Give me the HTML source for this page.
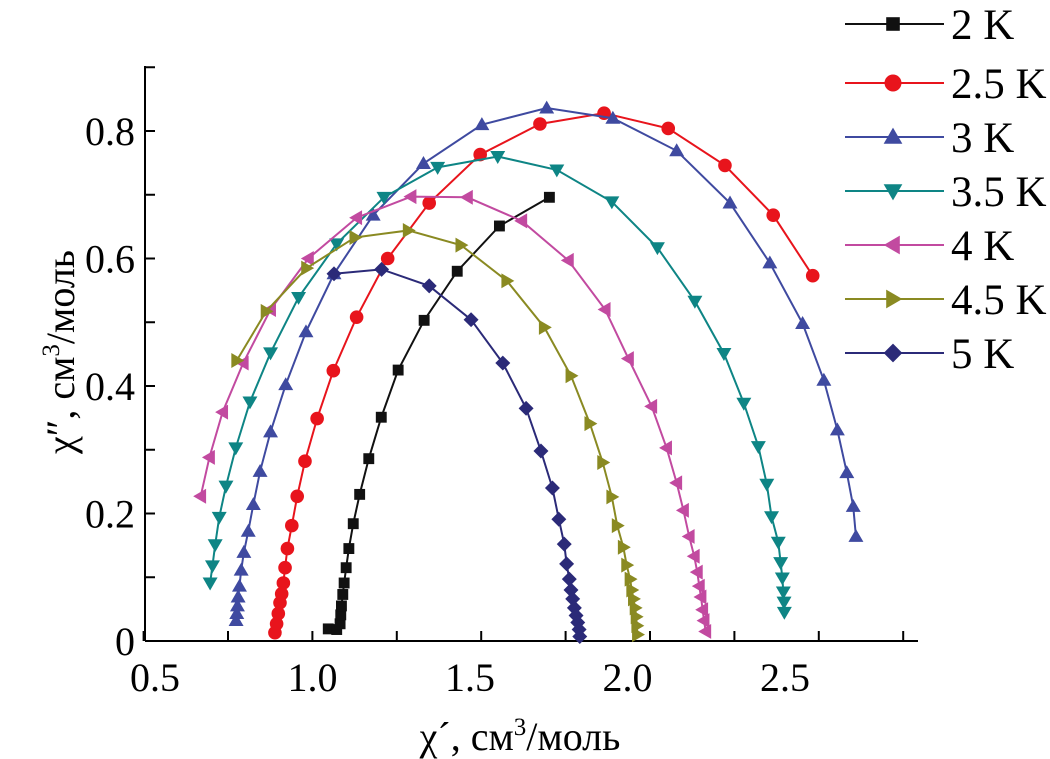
<!DOCTYPE html>
<html><head><meta charset="utf-8">
<style>
html,body{margin:0;padding:0;background:#fff;}
svg{display:block;font-family:"Liberation Serif",serif;}
</style></head>
<body>
<svg id="chart" width="1050" height="759" viewBox="0 0 1050 759" xmlns="http://www.w3.org/2000/svg">
<g id="axes"></g>
<g id="plot"></g>
<g id="legend"></g>
<text x="520" y="750" font-size="40" text-anchor="middle">χ´, см<tspan font-size="25" dy="-15">3</tspan><tspan dy="15">/моль</tspan></text>
<text transform="translate(74,352) rotate(-90)" font-size="40" text-anchor="middle">χ″, см<tspan font-size="25" dy="-15">3</tspan><tspan dy="15">/моль</tspan></text>
</svg>
<script>
const seriesNames = ["2 K","2.5 K","3 K","3.5 K","4 K","4.5 K","5 K"];
const seriesColors = ["#111111","#e8141c","#3f4aa0","#0e8585","#c24aa0","#8a8a22","#2b2a78"];
const seriesMarkers = ["square","circle","up","down","left","right","diamond"];
const x2K = [1.047,1.072,1.082,1.084,1.086,1.090,1.094,1.100,1.108,1.121,1.140,1.167,1.204,1.254,1.331,1.429,1.554,1.702];
const y2K = [0.019,0.018,0.027,0.041,0.055,0.073,0.091,0.115,0.145,0.184,0.230,0.286,0.351,0.425,0.503,0.580,0.651,0.696];
const x25K = [0.889,0.894,0.899,0.904,0.909,0.914,0.919,0.926,0.939,0.955,0.978,1.014,1.062,1.131,1.223,1.346,1.497,1.674,1.864,2.054,2.222,2.365,2.482];
const y25K = [0.013,0.027,0.043,0.060,0.074,0.091,0.115,0.145,0.181,0.227,0.282,0.349,0.424,0.508,0.600,0.687,0.763,0.811,0.828,0.804,0.746,0.668,0.573];
const x3K = [0.774,0.776,0.778,0.780,0.784,0.789,0.797,0.810,0.825,0.845,0.876,0.921,0.981,1.064,1.180,1.329,1.502,1.694,1.890,2.079,2.237,2.355,2.452,2.515,2.555,2.583,2.602,2.610];
const y3K = [0.032,0.043,0.055,0.069,0.086,0.111,0.139,0.172,0.214,0.266,0.328,0.402,0.485,0.576,0.668,0.749,0.810,0.836,0.820,0.769,0.687,0.593,0.498,0.409,0.331,0.264,0.211,0.164];
const x35K = [0.697,0.704,0.712,0.724,0.744,0.773,0.815,0.876,0.959,1.072,1.212,1.371,1.549,1.724,1.887,2.022,2.133,2.219,2.278,2.321,2.346,2.360,2.380,2.387,2.392,2.395,2.397,2.398];
const y35K = [0.091,0.118,0.151,0.194,0.243,0.303,0.375,0.452,0.539,0.623,0.696,0.743,0.760,0.739,0.689,0.617,0.533,0.451,0.373,0.305,0.246,0.195,0.155,0.123,0.099,0.077,0.061,0.045];
const x4K = [0.669,0.695,0.734,0.795,0.876,0.988,1.131,1.292,1.459,1.620,1.758,1.867,1.936,2.005,2.049,2.079,2.099,2.116,2.131,2.140,2.146,2.151,2.156,2.160,2.165];
const y4K = [0.227,0.288,0.359,0.436,0.520,0.600,0.664,0.697,0.696,0.659,0.597,0.520,0.443,0.368,0.303,0.248,0.205,0.164,0.133,0.108,0.086,0.069,0.049,0.032,0.015];
const x45K = [0.776,0.863,0.983,1.126,1.284,1.440,1.576,1.687,1.766,1.822,1.860,1.887,1.903,1.921,1.931,1.941,1.946,1.951,1.956,1.959,1.961,1.963];
const y45K = [0.440,0.517,0.585,0.633,0.644,0.621,0.565,0.492,0.416,0.341,0.280,0.226,0.181,0.147,0.119,0.097,0.080,0.066,0.052,0.038,0.024,0.010];
const x5K = [1.064,1.205,1.346,1.470,1.564,1.633,1.677,1.711,1.730,1.746,1.753,1.761,1.766,1.771,1.776,1.781,1.786,1.790,1.792];
const y5K = [0.576,0.583,0.557,0.504,0.436,0.365,0.298,0.240,0.191,0.152,0.121,0.097,0.080,0.066,0.052,0.040,0.029,0.018,0.007];
const xTickLabels = ["0.5","1.0","1.5","2.0","2.5"];
const yTickLabels = ["0","0.2","0.4","0.6","0.8"];

const allX = [x2K,x25K,x3K,x35K,x4K,x45K,x5K];
const allY = [y2K,y25K,y3K,y35K,y4K,y45K,y5K];
const NS = "http://www.w3.org/2000/svg";
const X0 = 143.6, XS = 337.6, Y0 = 641, YS = 637.5;
function sx(v){ return X0 + (v - 0.5) * XS; }
function sy(v){ return Y0 - v * YS; }
function lx(v){ return 155 + (v - 0.5) * 315; }
function mk(tag, attrs, parent){
  const e = document.createElementNS(NS, tag);
  for (const k in attrs) e.setAttribute(k, attrs[k]);
  parent.appendChild(e);
  return e;
}
const axes = document.getElementById('axes');
const plot = document.getElementById('plot');
const legend = document.getElementById('legend');

const xl = mk('line', {x1:145, y1:Y0, x2:918, y2:Y0, stroke:'#000', 'stroke-width':2}, axes);


const yl = mk('line', {x1:145, y1:Y0, x2:145, y2:66, stroke:'#000', 'stroke-width':2}, axes);



for (let i = 0; i <= 9; i++) {
  const v = 0.5 + i * 0.25;
  const px = sx(v);
  if (px > 918) break;
  const t = mk('line', {x1:px, y1:Y0, x2:px, y2:Y0-10, stroke:'#000', 'stroke-width':2}, axes);
  
  
}
xTickLabels.forEach(function(lab){
  const tx = mk('text', {x:lx(parseFloat(lab)), y:Y0 + 50, 'font-size':40, 'text-anchor':'middle'}, axes);
  tx.textContent = lab;
  
  
});
for (let i = 0; i <= 9; i++) {
  const v = i * 0.1;
  const t = mk('line', {x1:145, y1:sy(v), x2:155, y2:sy(v), stroke:'#000', 'stroke-width':2}, axes);
  
  
}
yTickLabels.forEach(function(lab){
  const tx = mk('text', {x:135, y:sy(parseFloat(lab)) + 14, 'font-size':40, 'text-anchor':'end'}, axes);
  tx.textContent = lab;
  
  
});

function marker(type, cx, cy, col, parent, r){
  let e;
  if (type === 'square') e = mk('rect', {x:cx-r*0.8, y:cy-r*0.8, width:r*1.6, height:r*1.6, fill:col}, parent);
  else if (type === 'circle') e = mk('circle', {cx:cx, cy:cy, r:r, fill:col}, parent);
  else if (type === 'up') e = mk('polygon', {points:(cx)+','+(cy-r*1.1)+' '+(cx-r*1.1)+','+(cy+r*0.8)+' '+(cx+r*1.1)+','+(cy+r*0.8), fill:col}, parent);
  else if (type === 'down') e = mk('polygon', {points:(cx)+','+(cy+r*1.1)+' '+(cx-r*1.1)+','+(cy-r*0.8)+' '+(cx+r*1.1)+','+(cy-r*0.8), fill:col}, parent);
  else if (type === 'left') e = mk('polygon', {points:(cx-r*1.1)+','+cy+' '+(cx+r*0.8)+','+(cy-r*1.1)+' '+(cx+r*0.8)+','+(cy+r*1.1), fill:col}, parent);
  else if (type === 'right') e = mk('polygon', {points:(cx+r*1.1)+','+cy+' '+(cx-r*0.8)+','+(cy-r*1.1)+' '+(cx-r*0.8)+','+(cy+r*1.1), fill:col}, parent);
  else e = mk('polygon', {points:cx+','+(cy-r*1.1)+' '+(cx+r*1.1)+','+cy+' '+cx+','+(cy+r*1.1)+' '+(cx-r*1.1)+','+cy, fill:col}, parent);
  return e;
}

allX.forEach(function(xs, si){
  const ys = allY[si];
  const col = seriesColors[si];
  const g = mk('g', {}, plot);
  
  
  const pts = xs.map(function(v, i){ return sx(v) + ',' + sy(ys[i]); }).join(' ');
  const pl = mk('polyline', {points:pts, fill:'none', stroke:col, 'stroke-width':2}, g);
  
  
  xs.forEach(function(v, i){
    const m = marker(seriesMarkers[si], sx(v), sy(ys[i]), col, g, 6.8);
    
    
  });
});

const legY = [24, 83, 137, 191, 245, 299, 353];
seriesNames.forEach(function(name, si){
  const y = legY[si];
  const g = mk('g', {}, legend);
  
  
  mk('line', {x1:845, y1:y, x2:944, y2:y, stroke:seriesColors[si], 'stroke-width':2}, g);
  marker(seriesMarkers[si], 893, y, seriesColors[si], g, 8.5);
  const tx = mk('text', {x:951, y:y + 15, 'font-size':43}, g);
  tx.textContent = name;
  
  
});
</script>
</body></html>
